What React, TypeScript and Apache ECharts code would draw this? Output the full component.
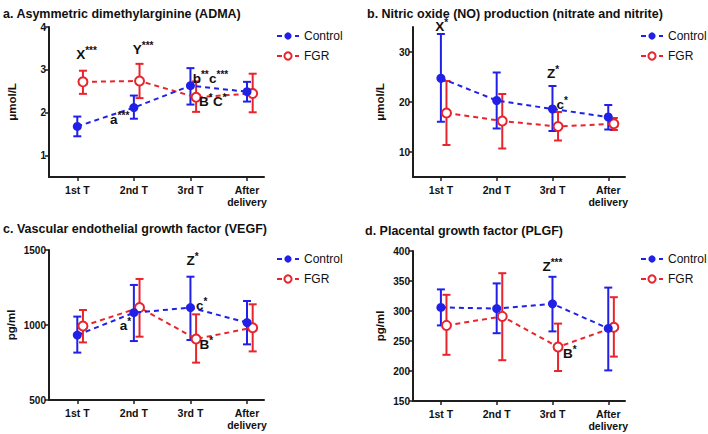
import React, { useEffect, useRef } from "react";
import * as echarts from "echarts";

const categories = ["1st T", "2nd T", "3rd T", "After\ndelivery"];

// a. ADMA (μmol/L)
const admaControlMean = [1.68, 2.12, 2.63, 2.49];
const admaControlLow = [1.45, 1.86, 2.19, 2.26];
const admaControlHigh = [1.91, 2.4, 3.04, 2.72];
const admaFgrMean = [2.72, 2.74, 2.36, 2.45];
const admaFgrLow = [2.44, 2.34, 2.02, 2.01];
const admaFgrHigh = [2.98, 3.14, 2.73, 2.91];
const admaTicks = [1, 2, 3, 4];
const admaNotes = [
  { x: 0.98, y: 3.35, text: "X***" },
  { x: 1.98, y: 3.47, text: "Y***" },
  { x: 1.58, y: 1.84, text: "a***" },
  { x: 3.04, y: 2.81, text: "b**c***" },
  { x: 3.15, y: 2.26, text: "B*C*" },
];

// b. NO (μmol/L)
const noControlMean = [24.75, 20.3, 18.6, 17.0];
const noControlLow = [16.05, 14.7, 14.2, 14.5];
const noControlHigh = [33.6, 25.9, 23.2, 19.4];
const noFgrMean = [17.8, 16.2, 15.1, 15.65];
const noFgrLow = [11.4, 10.7, 12.3, 14.4];
const noFgrHigh = [24.2, 21.6, 18.0, 16.8];
const noTicks = [10, 20, 30];
const noNotes = [
  { x: 0.9, y: 35.2, text: "X*" },
  { x: 2.9, y: 25.7, text: "Z*" },
  { x: 3.07, y: 19.5, text: "c*" },
];

// c. VEGF (pg/ml)
const vegfControlMean = [933, 1082, 1116, 1016];
const vegfControlLow = [816, 893, 900, 871];
const vegfControlHigh = [1056, 1267, 1322, 1160];
const vegfFgrMean = [993, 1116, 907, 982];
const vegfFgrLow = [884, 922, 749, 824];
const vegfFgrHigh = [1100, 1307, 1071, 1138];
const vegfTicks = [500, 1000, 1500];
const vegfNotes = [
  { x: 2.93, y: 1427, text: "Z*" },
  { x: 3.1, y: 1133, text: "c*" },
  { x: 1.75, y: 1000, text: "a*" },
  { x: 3.16, y: 867, text: "B*" },
];

// d. PLGF (pg/ml)
const plgfControlMean = [306, 304, 312, 271];
const plgfControlLow = [276, 263, 266, 201];
const plgfControlHigh = [336, 346, 357, 339];
const plgfFgrMean = [276, 291, 240, 273];
const plgfFgrLow = [227, 218, 200, 224];
const plgfFgrHigh = [327, 363, 279, 323];
const plgfTicks = [150, 200, 250, 300, 350, 400];
const plgfNotes = [
  { x: 2.82, y: 374, text: "Z***" },
  { x: 3.19, y: 229, text: "B*" },
];

const BLUE = "#2020e6";
const RED = "#e8242c";
const AXIS = "#1e1e1e";
const INK = "#111111";
const FONT = "'Liberation Sans', Arial, sans-serif";
const FGR_SHIFT = 0.1;
const LETTER_FONT = `bold 13.5px ${FONT}`;
const STAR_FONT = `bold 10px ${FONT}`;

type Panel = {
  title: string;
  yName: string;
  yMin: number;
  yMax: number;
  ticks: number[];
  cMean: number[];
  cLow: number[];
  cHigh: number[];
  fMean: number[];
  fLow: number[];
  fHigh: number[];
  notes: { x: number; y: number; text: string }[];
  grid: { left: number; top: number; width: number; height: number };
  titlePos: { left: number; top: number };
  legendPos: { left: number; top: number };
  nameGap: number;
};

const panels: Panel[] = [
  {
    title: "a. Asymmetric dimethylarginine (ADMA)",
    yName: "μmol/L",
    yMin: 0.5,
    yMax: 4,
    ticks: admaTicks,
    cMean: admaControlMean,
    cLow: admaControlLow,
    cHigh: admaControlHigh,
    fMean: admaFgrMean,
    fLow: admaFgrLow,
    fHigh: admaFgrHigh,
    notes: admaNotes,
    grid: { left: 49, top: 27, width: 215, height: 150 },
    titlePos: { left: 3, top: 7 },
    legendPos: { left: 276, top: 30 },
    nameGap: 31,
  },
  {
    title: "b. Nitric oxide (NO) production (nitrate and nitrite)",
    yName: "μmol/L",
    yMin: 5,
    yMax: 35,
    ticks: noTicks,
    cMean: noControlMean,
    cLow: noControlLow,
    cHigh: noControlHigh,
    fMean: noFgrMean,
    fLow: noFgrLow,
    fHigh: noFgrHigh,
    notes: noNotes,
    grid: { left: 413, top: 27, width: 212, height: 150 },
    titlePos: { left: 367, top: 7 },
    legendPos: { left: 640, top: 30 },
    nameGap: 27,
  },
  {
    title: "c. Vascular endothelial growth factor (VEGF)",
    yName: "pg/ml",
    yMin: 500,
    yMax: 1500,
    ticks: vegfTicks,
    cMean: vegfControlMean,
    cLow: vegfControlLow,
    cHigh: vegfControlHigh,
    fMean: vegfFgrMean,
    fLow: vegfFgrLow,
    fHigh: vegfFgrHigh,
    notes: vegfNotes,
    grid: { left: 49, top: 250, width: 215, height: 150 },
    titlePos: { left: 3, top: 222 },
    legendPos: { left: 276, top: 253 },
    nameGap: 32,
  },
  {
    title: "d. Placental growth factor (PLGF)",
    yName: "pg/ml",
    yMin: 150,
    yMax: 400,
    ticks: plgfTicks,
    cMean: plgfControlMean,
    cLow: plgfControlLow,
    cHigh: plgfControlHigh,
    fMean: plgfFgrMean,
    fLow: plgfFgrLow,
    fHigh: plgfFgrHigh,
    notes: plgfNotes,
    grid: { left: 413, top: 251, width: 212, height: 150 },
    titlePos: { left: 365, top: 224 },
    legendPos: { left: 640, top: 253 },
    nameGap: 27,
  },
];

let measureCtx: CanvasRenderingContext2D | null = null;
const measure = (text: string, font: string) => {
  if (!measureCtx) {
    const c = document.createElement("canvas");
    measureCtx = c.getContext("2d");
  }
  if (!measureCtx) return text.length * 7;
  measureCtx.font = font;
  return measureCtx.measureText(text).width;
};

const renderErr = (params: any, api: any) => {
  const x = api.value(0);
  const lo = api.coord([x, api.value(1)]);
  const hi = api.coord([x, api.value(2)]);
  const cap = 4;
  const style = { stroke: api.visual("color"), lineWidth: 2, fill: null };
  return {
    type: "group",
    children: [
      { type: "line", shape: { x1: lo[0], y1: lo[1], x2: hi[0], y2: hi[1] }, style },
      { type: "line", shape: { x1: hi[0] - cap, y1: hi[1], x2: hi[0] + cap, y2: hi[1] }, style },
      { type: "line", shape: { x1: lo[0] - cap, y1: lo[1], x2: lo[0] + cap, y2: lo[1] }, style },
    ],
  };
};

const makeNoteRenderer = (notes: { x: number; y: number; text: string }[]) => (params: any, api: any) => {
  const n = notes[params.dataIndex];
  const pt = api.coord([n.x, n.y]);
  const tokens = n.text.split(/(\*+)/).filter((s) => s.length > 0);
  let cx = pt[0];
  const children: any[] = [];
  tokens.forEach((tk) => {
    const star = tk[0] === "*";
    const font = star ? STAR_FONT : LETTER_FONT;
    children.push({
      type: "text",
      x: cx,
      y: star ? pt[1] - 4 : pt[1],
      style: {
        text: tk,
        font,
        fill: INK,
        textAlign: "left",
        textVerticalAlign: "middle",
      },
    });
    cx += measure(tk, font) + (star ? 0.3 : 0);
  });
  return { type: "group", children };
};

function buildOption() {
  const title: any[] = [];
  const legend: any[] = [];
  const grid: any[] = [];
  const xAxis: any[] = [];
  const yAxis: any[] = [];
  const series: any[] = [];

  panels.forEach((p, i) => {
    title.push({
      text: p.title,
      left: p.titlePos.left,
      top: p.titlePos.top,
      padding: 0,
      textStyle: { fontFamily: FONT, fontSize: 12.5, fontWeight: "bold", color: INK },
    });
    legend.push({
      data: ["Control", "FGR"],
      orient: "vertical",
      left: p.legendPos.left,
      top: p.legendPos.top,
      padding: 0,
      itemWidth: 22,
      itemHeight: 9,
      itemGap: 8,
      selectedMode: false,
      textStyle: { fontFamily: FONT, fontSize: 12, color: INK },
    });
    grid.push({ ...p.grid });
    xAxis.push({
      type: "value",
      gridIndex: i,
      min: 0.5,
      max: 4.3,
      splitLine: { show: false },
      axisLine: { lineStyle: { color: AXIS, width: 2 } },
      axisTick: { customValues: [1, 2, 3, 4], length: 4, lineStyle: { color: AXIS, width: 1.5 } },
      axisLabel: {
        customValues: [1, 2, 3, 4],
        formatter: (v: number) => categories[Math.round(v) - 1] ?? "",
        fontFamily: FONT,
        fontSize: 10.5,
        fontWeight: "bold",
        color: INK,
        lineHeight: 12,
        margin: 7,
      },
    });
    yAxis.push({
      type: "value",
      gridIndex: i,
      min: p.yMin,
      max: p.yMax,
      name: p.yName,
      nameLocation: "middle",
      nameGap: p.nameGap,
      nameTextStyle: { fontFamily: FONT, fontSize: 11.5, fontWeight: "bold", color: INK },
      splitLine: { show: false },
      axisLine: { show: true, lineStyle: { color: AXIS, width: 2 } },
      axisTick: { show: true, customValues: p.ticks, length: 4, lineStyle: { color: AXIS, width: 1.5 } },
      axisLabel: {
        customValues: p.ticks,
        formatter: (v: number) => String(v),
        fontFamily: FONT,
        fontSize: 10,
        fontWeight: "bold",
        color: INK,
        margin: 3,
      },
    });

    const cX = p.cMean.map((_, k) => k + 1);
    const fX = p.fMean.map((_, k) => k + 1 + FGR_SHIFT);

    series.push({
      type: "custom",
      name: "FGR err",
      xAxisIndex: i,
      yAxisIndex: i,
      renderItem: renderErr,
      itemStyle: { color: RED },
      encode: { x: 0, y: [1, 2] },
      data: fX.map((x, k) => [x, p.fLow[k], p.fHigh[k]]),
      z: 2,
    });
    series.push({
      type: "custom",
      name: "Control err",
      xAxisIndex: i,
      yAxisIndex: i,
      renderItem: renderErr,
      itemStyle: { color: BLUE },
      encode: { x: 0, y: [1, 2] },
      data: cX.map((x, k) => [x, p.cLow[k], p.cHigh[k]]),
      z: 2,
    });
    series.push({
      type: "line",
      name: "Control",
      xAxisIndex: i,
      yAxisIndex: i,
      data: cX.map((x, k) => [x, p.cMean[k]]),
      symbol: "circle",
      symbolSize: 9,
      itemStyle: { color: BLUE, borderWidth: 0 },
      lineStyle: { color: BLUE, width: 2, type: [5, 4] },
      z: 4,
    });
    series.push({
      type: "line",
      name: "FGR",
      xAxisIndex: i,
      yAxisIndex: i,
      data: fX.map((x, k) => [x, p.fMean[k]]),
      symbol: "emptyCircle",
      symbolSize: 9,
      itemStyle: { color: RED, borderColor: RED, borderWidth: 2 },
      lineStyle: { color: RED, width: 2, type: [5, 4] },
      z: 3,
    });
    series.push({
      type: "custom",
      name: "notes",
      xAxisIndex: i,
      yAxisIndex: i,
      silent: true,
      clip: false,
      renderItem: makeNoteRenderer(p.notes),
      encode: { x: 0, y: 1 },
      data: p.notes.map((n) => [n.x, n.y]),
      z: 5,
    });
  });

  return { animation: false, backgroundColor: "#fff", title, legend, grid, xAxis, yAxis, series };
}

export default function App() {
  const ref = useRef<HTMLDivElement>(null);
  useEffect(() => {
    if (!ref.current) return;
    const chart = echarts.init(ref.current, undefined, { renderer: "svg" });
    chart.setOption(buildOption() as any);
    return () => chart.dispose();
  }, []);
  return (
    <div
      ref={ref}
      style={{ position: "absolute", left: 0, top: 0, width: 708, height: 434, background: "#fff" }}
    />
  );
}
